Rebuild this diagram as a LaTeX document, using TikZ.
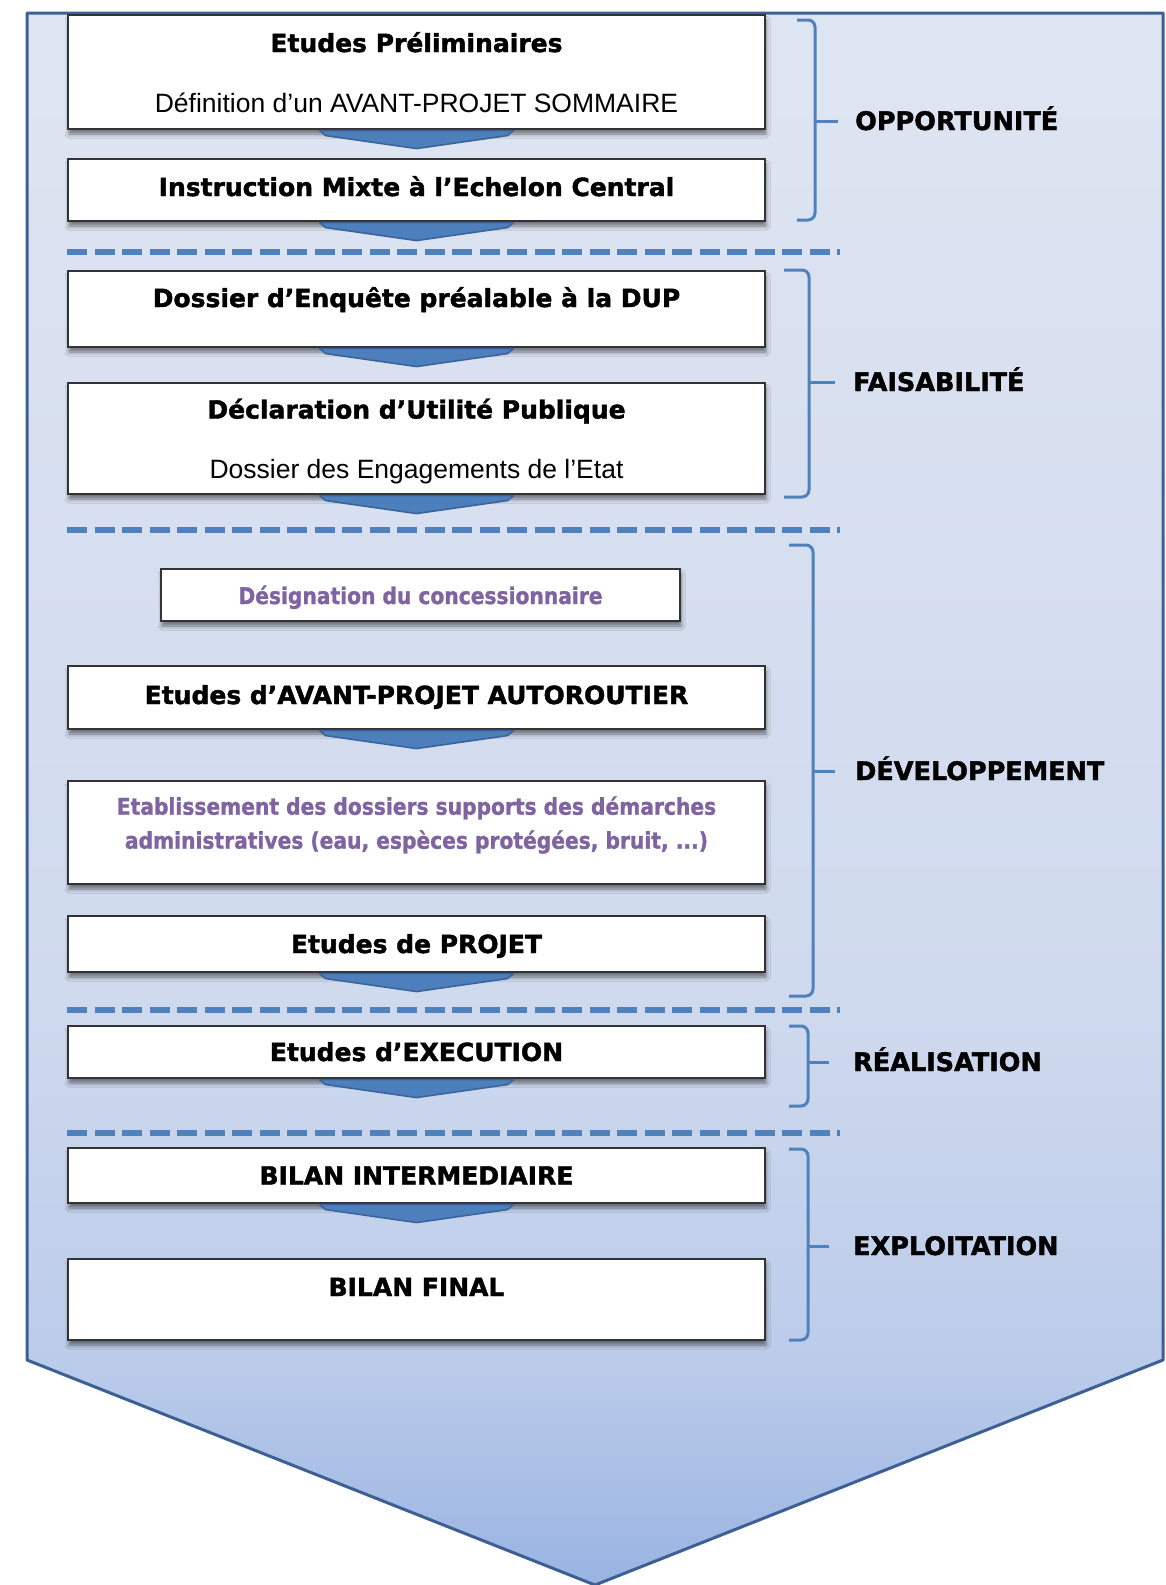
\documentclass[tikz,border=0pt]{standalone}
\usepackage{fontspec}
\setmainfont{Liberation Sans}
\newfontfamily\heavyfont{DejaVu Sans}[FakeBold=1.6]
\newfontfamily\narrowfont{DejaVu Sans}[FakeStretch=0.88, FakeBold=1.2]
\newcommand{\subfont}{\rmfamily\mdseries\fontsize{26.5}{30}\selectfont}
\usepackage{xcolor}
\usetikzlibrary{calc}
\usetikzlibrary{shadows.blur}

\definecolor{framblue}{HTML}{3C5F94}
\definecolor{dashblue}{HTML}{4F81BD}
\definecolor{chevblue}{HTML}{4D7FBC}
\definecolor{chevedge}{HTML}{3A6399}
\definecolor{textpurple}{HTML}{8064A2}
\definecolor{shdtop}{HTML}{DEE5F2}
\definecolor{shdmid}{HTML}{D0DAEE}
\definecolor{shdlow}{HTML}{BBCBEA}
\definecolor{shdbot}{HTML}{99B4E2}
\pgfdeclareverticalshading{phasefill}{100bp}{color(0bp)=(shdbot); color(25bp)=(shdbot);
  color(32bp)=(shdlow); color(44bp)=(shdmid); color(75bp)=(shdtop); color(100bp)=(shdtop)}

\begin{document}
\begin{tikzpicture}[x=1pt, y=-1pt,
    stage/.style={draw=black!80, line width=1.2pt, fill=white, inner sep=0pt,
      minimum width=697, align=center,
      blur shadow={shadow xshift=1pt, shadow yshift=-5pt, shadow blur radius=4pt, shadow opacity=50},
      font=\heavyfont\bfseries\fontsize{25}{30}\selectfont},
    single/.style={text height=18, text depth=#1}, single/.default=0,
    note/.style={stage, text=textpurple, font=\narrowfont\bfseries\fontsize{23}{34}\selectfont},
    phase/.style={anchor=west, inner sep=0pt, text height=18, text depth=0,
      font=\heavyfont\bfseries\fontsize{25.5}{30}\selectfont},
    chev/.style={fill=chevblue, draw=chevedge, line width=1.5pt, line join=round},
    sep/.style={dashblue, line width=6pt, dash pattern=on 20pt off 7.5pt},
    brc/.style={dashblue, line width=3pt, rounded corners=7pt}]

  \useasboundingbox (0,0) rectangle (1166,1585);

  % big arrow behind everything
  \shadedraw[shading=phasefill, draw=framblue, line width=3pt, line join=round]
    (27,13) -- (1163,13) -- (1163,1360) -- (595,1585) -- (27,1360) -- cycle;

  % stages
  \node[stage, minimum height=114, text depth=-2] (prelim) at (416.5,72)
    {Etudes Préliminaires\\[30pt]{\subfont Définition d’un AVANT-PROJET SOMMAIRE}};
  \node[stage, single=6, minimum height=62] (imec) at (416.5,190)
    {Instruction Mixte à l’Echelon Central};
  \node[stage, single=22, minimum height=76] (enquete) at (416.5,309)
    {Dossier d’Enquête préalable à la DUP};
  \node[stage, minimum height=111, text depth=-5] (dup) at (416.5,438.5)
    {Déclaration d’Utilité Publique\\[30pt]{\subfont Dossier des Engagements de l’Etat}};
  \node[note, single, minimum width=519, minimum height=52] (concess) at (420.5,595)
    {Désignation du concessionnaire};
  \node[stage, single=5, minimum height=63] (apa) at (416.5,697.5)
    {Etudes d’AVANT-PROJET AUTOROUTIER};
  \node[note, minimum height=103, text depth=20] (dossiers) at (416.5,832.5)
    {Etablissement des dossiers supports des démarches\\administratives (eau, espèces protégées, bruit, ...)};
  \node[stage, single, minimum height=56] (projet) at (416.5,944)
    {Etudes de PROJET};
  \node[stage, single, minimum height=52] (execution) at (416.5,1052)
    {Etudes d’EXECUTION};
  \node[stage, single, minimum height=55] (bilanmid) at (416.5,1175.5)
    {BILAN INTERMEDIAIRE};
  \node[stage, single=25, minimum height=81] (bilanend) at (416.5,1299.5)
    {BILAN FINAL};

  % small arrows under the stages
  \foreach \n in {prelim,imec,enquete,dup,apa,projet,execution,bilanmid}
    \filldraw[chev] ($(\n.south)+(-97,1)$) -- ($(\n.south)+(97,1)$) -- ($(\n.south)+(91,6)$)
      -- ($(\n.south)+(0,19)$) -- ($(\n.south)+(-91,6)$) -- cycle;

  % dashed separators
  \foreach \y in {252,530,1010,1133}
    \draw[sep] (67,\y) -- (840,\y);

  % braces and phase names
  \foreach \ytop/\ybot/\ytip/\xhook/\xbar/\xnub/\xname/\phasename [count=\i] in
      {20/220/121/797/815/838/855/OPPORTUNITÉ,
       270/497/382/784/809/835/853/FAISABILITÉ,
       545/996/771/789/813/835/855/DÉVELOPPEMENT,
       1026/1106/1062/789/808/829/853/RÉALISATION,
       1149/1340/1246/789/808/829/853/EXPLOITATION} {
    \draw[brc] (\xhook,\ytop) -| (\xbar,\ytip) |- (\xhook,\ybot);
    \draw[brc] (\xbar,\ytip) -- (\xnub,\ytip);
    \node[phase] (phase\i) at (\xname,\ytip) {\phasename};
  }

\end{tikzpicture}
\end{document}
